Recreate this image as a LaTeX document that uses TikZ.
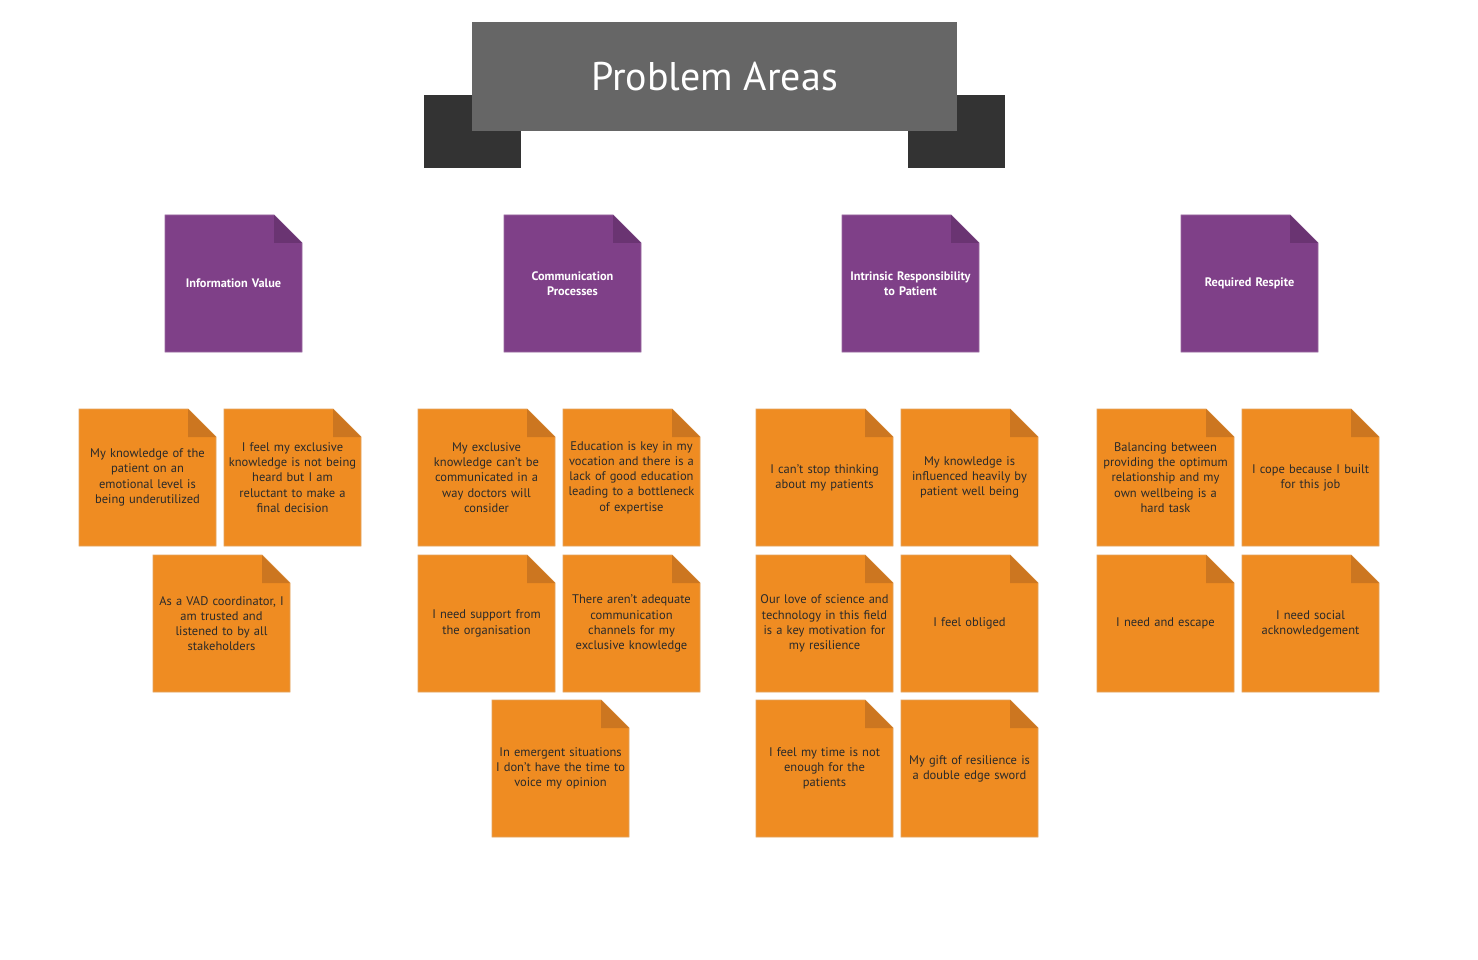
\documentclass[tikz,border=0pt]{standalone}
\usepackage{fontspec}
\setmainfont{PT Sans}
\usetikzlibrary{backgrounds}
\definecolor{bannergray}{HTML}{666666}
\definecolor{tabgray}{HTML}{333333}
\definecolor{purpbody}{HTML}{7F4088}
\definecolor{purpfold}{HTML}{6A3472}
\definecolor{purpedge}{HTML}{9A6AA0}
\definecolor{orgbody}{HTML}{EF8C22}
\definecolor{orgfold}{HTML}{CC7620}
\definecolor{orgedge}{HTML}{E3A45E}
\definecolor{notetext}{HTML}{2A2A2A}
\tikzset{
  tabbox/.style={fill=tabgray, minimum width=97pt, minimum height=73pt, inner sep=0pt, outer sep=0pt},
  bannerbox/.style={fill=bannergray, minimum width=485pt, minimum height=109pt, inner sep=0pt, outer sep=0pt,
    text=white, font=\fontsize{40}{46}\selectfont},
  cardbase/.style={minimum width=137pt, minimum height=137pt, inner sep=0pt, outer sep=0pt,
    text width=135pt, align=center},
  purpletext/.style={cardbase, text=white, font=\bfseries\fontsize{12.3}{15.5}\selectfont},
  orangetext/.style={cardbase, text=notetext, font=\fontsize{12.5}{15.2}\selectfont},
  purplebody/.style={fill=purpbody, draw=purpedge, line width=0.8pt},
  purplefold/.style={fill=purpfold},
  orangebody/.style={fill=orgbody, draw=orgedge, line width=0.8pt},
  orangefold/.style={fill=orgfold},
}
\newcommand\card[5]{%
  \node[#2text] (#1) at (#3+68.5,#4+68.5) {#5};
  \begin{scope}[on background layer]
    \filldraw[#2body] (#1.north west) -- ([xshift=-28pt]#1.north east) -- ([yshift=-28pt]#1.north east)
      -- (#1.south east) -- (#1.south west) -- cycle;
    \fill[#2fold] ([xshift=-28pt]#1.north east) -- ([xshift=-28pt,yshift=-28pt]#1.north east)
      -- ([yshift=-28pt]#1.north east) -- cycle;
  \end{scope}}
\begin{document}
\begin{tikzpicture}[x=1pt,y=-1pt]
\begin{scope}[on background layer]
  \fill[white] (0,0) rectangle (1478,960);
\end{scope}
\useasboundingbox (0,0) rectangle (1478,960);
% banner
\node[tabbox] (tabL) at (472.5,131.5) {};
\node[tabbox] (tabR) at (956.5,131.5) {};
\node[bannerbox] (title) at (714.5,76.5) {Problem Areas};
% categories
\card{catA}{purple}{165}{215}{Information Value}
\card{catB}{purple}{504}{215}{Communication\\Processes}
\card{catC}{purple}{842}{215}{Intrinsic Responsibility\\to Patient}
\card{catD}{purple}{1181}{215}{Required Respite}
% group A
\card{a1}{orange}{79}{409}{My knowledge of the\\patient on an\\emotional level is\\being underutilized}
\card{a2}{orange}{224}{409}{I feel my exclusive\\knowledge is not being\\heard but I am\\reluctant to make a\\final decision}
\card{a3}{orange}{153}{555}{As a VAD coordinator, I\\am trusted and\\listened to by all\\stakeholders}
% group B
\card{b1}{orange}{418}{409}{My exclusive\\knowledge can’t be\\communicated in a\\way doctors will\\consider}
\card{b2}{orange}{563}{409}{Education is key in my\\vocation and there is a\\lack of good education\\leading to a bottleneck\\of expertise}
\card{b3}{orange}{418}{555}{I need support from\\the organisation}
\card{b4}{orange}{563}{555}{There aren’t adequate\\communication\\channels for my\\exclusive knowledge}
\card{b5}{orange}{492}{700}{In emergent situations\\I don’t have the time to\\voice my opinion}
% group C
\card{c1}{orange}{756}{409}{I can’t stop thinking\\about my patients}
\card{c2}{orange}{901}{409}{My knowledge is\\influenced heavily by\\patient well being}
\card{c3}{orange}{756}{555}{Our love of science and\\technology in this field\\is a key motivation for\\my resilience}
\card{c4}{orange}{901}{555}{I feel obliged}
\card{c5}{orange}{756}{700}{I feel my time is not\\enough for the\\patients}
\card{c6}{orange}{901}{700}{My gift of resilience is\\a double edge sword}
% group D
\card{d1}{orange}{1097}{409}{Balancing between\\providing the optimum\\relationship and my\\own wellbeing is a\\hard task}
\card{d2}{orange}{1242}{409}{I cope because I built\\for this job}
\card{d3}{orange}{1097}{555}{I need and escape}
\card{d4}{orange}{1242}{555}{I need social\\acknowledgement}
\end{tikzpicture}
\end{document}
